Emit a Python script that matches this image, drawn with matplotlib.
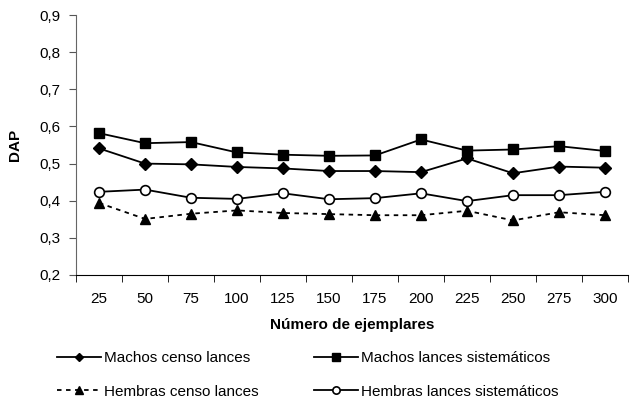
import numpy as np
import matplotlib
matplotlib.use("Agg")
import matplotlib.pyplot as plt
from matplotlib.ticker import FuncFormatter, FixedLocator

plt.rcParams['font.family'] = ['Liberation Sans', 'DejaVu Sans']

categorias = ["25", "50", "75", "100", "125", "150", "175", "200", "225", "250", "275", "300"]
machos_censo = [0.541, 0.500, 0.498, 0.491, 0.487, 0.480, 0.480, 0.477, 0.514, 0.474, 0.492, 0.489]
machos_sist = [0.582, 0.555, 0.558, 0.530, 0.524, 0.521, 0.522, 0.565, 0.535, 0.538, 0.547, 0.534]
hembras_censo = [0.394, 0.351, 0.365, 0.374, 0.367, 0.364, 0.361, 0.361, 0.373, 0.347, 0.369, 0.361]
hembras_sist = [0.424, 0.430, 0.408, 0.405, 0.420, 0.404, 0.407, 0.420, 0.399, 0.415, 0.415, 0.424]

fs = 11

fig = plt.figure(figsize=(6.32, 4.08), dpi=100)
ax = fig.add_axes([0.1203, 0.326, 0.8734, 0.637])

x = np.arange(len(categorias))

l1, = ax.plot(x, machos_censo, color="black", lw=1.3, marker="D", ms=6,
              label="Machos censo lances")
l2, = ax.plot(x, machos_sist, color="black", lw=1.3, marker="s", ms=6.8,
              label="Machos lances sistemáticos")
l3, = ax.plot(x, hembras_censo, color="black", lw=1.3, marker="^", ms=7.5,
              dashes=(2.5, 2.5), label="Hembras censo lances")
l4, = ax.plot(x, hembras_sist, color="black", lw=1.3, marker="o", ms=7,
              mfc="white", mew=1.2, label="Hembras lances sistemáticos")

ax.set_xlim(-0.5, len(categorias) - 0.5)
ax.set_ylim(0.2, 0.9)
ax.set_yticks(np.arange(0.2, 0.91, 0.1))
ax.yaxis.set_major_formatter(FuncFormatter(lambda v, p: f"{v:.1f}".replace(".", ",")))

ax.set_xticks(x)
ax.set_xticklabels(categorias)
ax.xaxis.set_minor_locator(FixedLocator(np.arange(-0.5, len(categorias), 1.0)))
ax.tick_params(axis="x", which="major", length=0, pad=12, labelsize=fs)
ax.tick_params(axis="x", which="minor", length=5, direction="out", color="black")
ax.tick_params(axis="y", length=5, direction="out", labelsize=fs, pad=6, color="#555555")

for s in ["top", "right"]:
    ax.spines[s].set_visible(False)
ax.spines["left"].set_color("#666666")
ax.spines["bottom"].set_color("black")

ax.set_ylabel("DAP", fontweight="bold", fontsize=fs, labelpad=13)
ax.set_xlabel("Número de ejemplares", fontweight="bold", fontsize=fs, labelpad=9)

fig.legend(handles=[l1, l3, l2, l4], loc="lower left", bbox_to_anchor=(0.078, 0.004),
           ncol=2, frameon=False, fontsize=fs, handlelength=2.9, markerscale=0.75,
           columnspacing=3.6, handletextpad=0.2, labelspacing=1.26, borderpad=0)

fig.savefig("out.png", dpi=100)
